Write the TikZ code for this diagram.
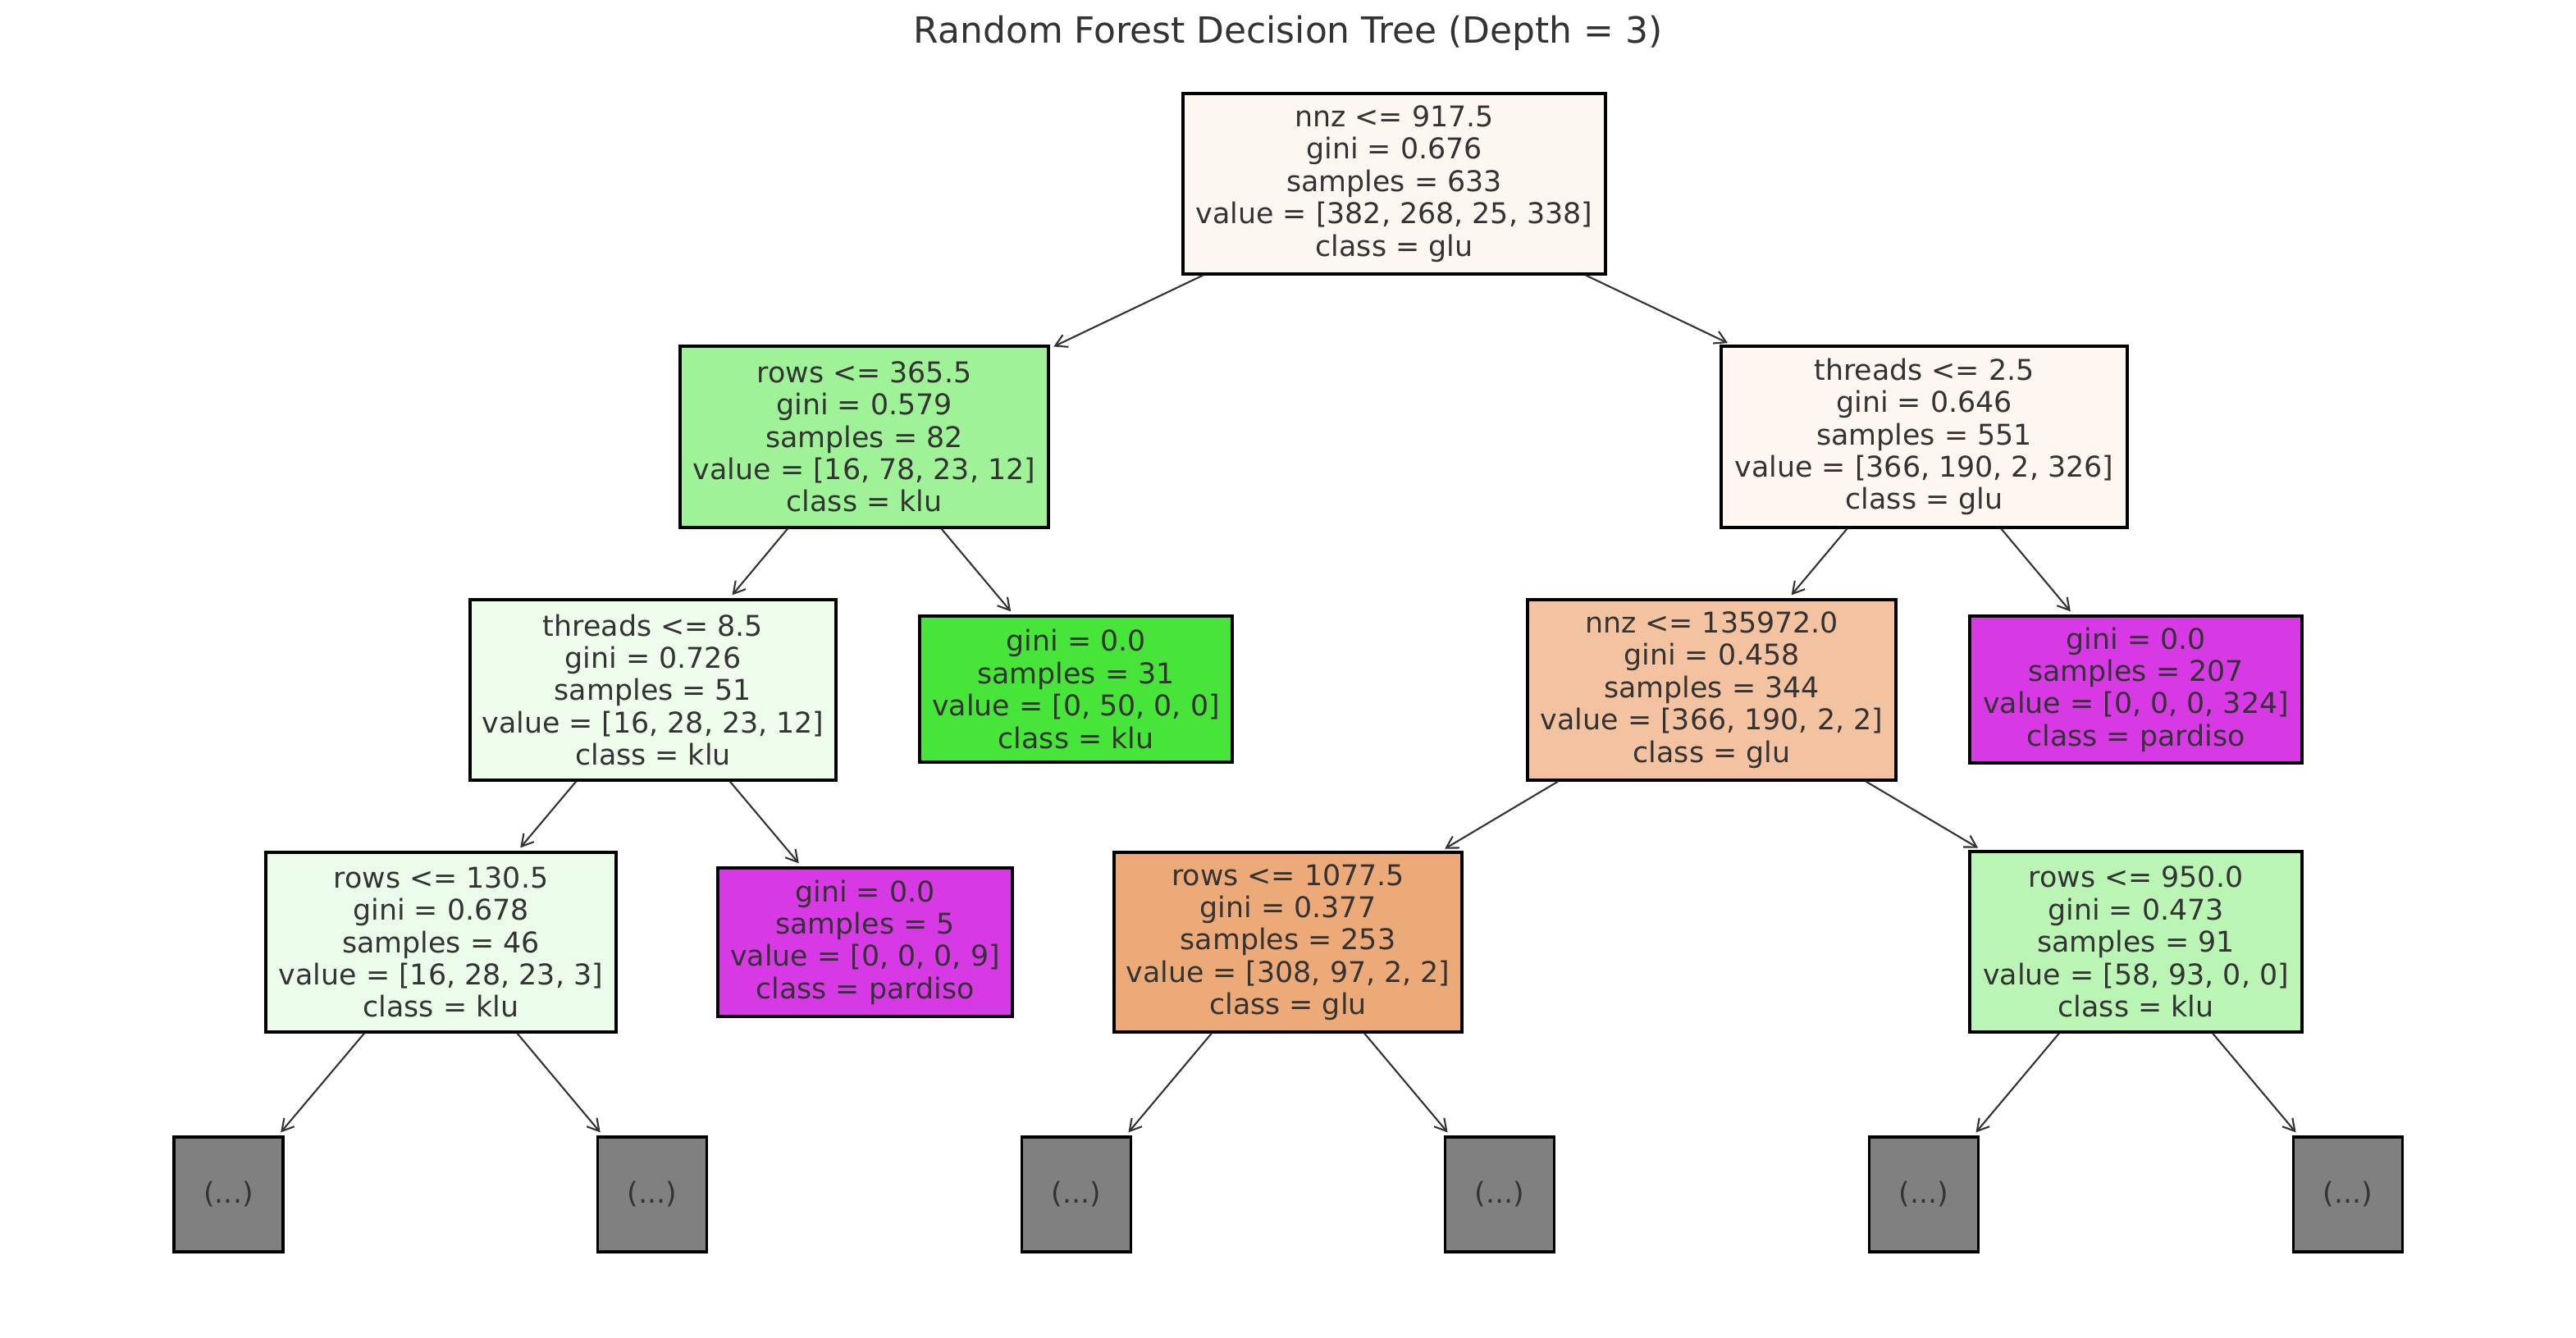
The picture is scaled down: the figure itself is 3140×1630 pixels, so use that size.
\documentclass[tikz,border=0pt]{standalone}
\usepackage{fontspec}
\setmainfont{DejaVu Sans}
\usetikzlibrary{arrows.meta}
\definecolor{txt}{HTML}{333333}
\definecolor{edgec}{HTML}{333333}
\definecolor{cRoot}{RGB}{253,247,242}
\definecolor{cA}{RGB}{160,242,152}
\definecolor{cB}{RGB}{253,246,241}
\definecolor{cC}{RGB}{239,253,237}
\definecolor{cKlu}{HTML}{47E539}
\definecolor{cD}{RGB}{243,195,161}
\definecolor{cPar}{HTML}{D739E5}
\definecolor{cE}{RGB}{235,252,234}
\definecolor{cF}{RGB}{237,170,121}
\definecolor{cG}{RGB}{186,245,181}
\definecolor{cGray}{HTML}{808080}
\tikzset{
  tnode/.style={draw=black, line width=0.9pt, rectangle, align=center, text=txt,
    inner sep=0pt, font=\fontsize{9.9pt}{11.2pt}\selectfont},
  trunc/.style={tnode, fill=cGray, minimum width=133\pgfxx, minimum height=140\pgfxx},
  arr/.style={draw=edgec, line width=0.6pt, -{Straight Barb[length=4pt,width=4.6pt]}, shorten >=1.5pt},
}
\newdimen\pgfxx
\pgfxx=0.01cm
\begin{document}
\begin{tikzpicture}[x=0.01cm,y=-0.01cm]
\path[use as bounding box] (0,0) rectangle (3140,1630);
\node[text=txt, font=\fontsize{12.5pt}{15pt}\selectfont] (title) at (1570,40) {Random Forest Decision Tree (Depth = 3)};

\node[tnode, fill=cRoot, minimum width=515\pgfxx, minimum height=220\pgfxx] (root) at (1699.5,224)
  {nnz <= 917.5\\gini = 0.676\\samples = 633\\value = [382, 268, 25, 338]\\class = glu};
\node[tnode, fill=cA, minimum width=449\pgfxx, minimum height=221\pgfxx] (n1) at (1053.5,532.5)
  {rows <= 365.5\\gini = 0.579\\samples = 82\\value = [16, 78, 23, 12]\\class = klu};
\node[tnode, fill=cB, minimum width=495\pgfxx, minimum height=221\pgfxx] (n2) at (2345.5,532.5)
  {threads <= 2.5\\gini = 0.646\\samples = 551\\value = [366, 190, 2, 326]\\class = glu};
\node[tnode, fill=cC, minimum width=446\pgfxx, minimum height=220\pgfxx] (n3) at (796,841)
  {threads <= 8.5\\gini = 0.726\\samples = 51\\value = [16, 28, 23, 12]\\class = klu};
\node[tnode, fill=cKlu, minimum width=381\pgfxx, minimum height=178\pgfxx] (n4) at (1311.5,840)
  {gini = 0.0\\samples = 31\\value = [0, 50, 0, 0]\\class = klu};
\node[tnode, fill=cD, minimum width=449\pgfxx, minimum height=220\pgfxx] (n5) at (2086.5,841)
  {nnz <= 135972.0\\gini = 0.458\\samples = 344\\value = [366, 190, 2, 2]\\class = glu};
\node[tnode, fill=cPar, minimum width=405\pgfxx, minimum height=179\pgfxx] (n6) at (2603.5,840.5)
  {gini = 0.0\\samples = 207\\value = [0, 0, 0, 324]\\class = pardiso};
\node[tnode, fill=cE, minimum width=427\pgfxx, minimum height=219\pgfxx] (n7) at (537.5,1148.5)
  {rows <= 130.5\\gini = 0.678\\samples = 46\\value = [16, 28, 23, 3]\\class = klu};
\node[tnode, fill=cPar, minimum width=359\pgfxx, minimum height=181\pgfxx] (n8) at (1054.5,1148.5)
  {gini = 0.0\\samples = 5\\value = [0, 0, 0, 9]\\class = pardiso};
\node[tnode, fill=cF, minimum width=424\pgfxx, minimum height=219\pgfxx] (n9) at (1570,1148.5)
  {rows <= 1077.5\\gini = 0.377\\samples = 253\\value = [308, 97, 2, 2]\\class = glu};
\node[tnode, fill=cG, minimum width=405\pgfxx, minimum height=220\pgfxx] (n10) at (2603.5,1148)
  {rows <= 950.0\\gini = 0.473\\samples = 91\\value = [58, 93, 0, 0]\\class = klu};

\node[trunc] (t1) at (278.5,1456) {(...)};
\node[trunc] (t2) at (795,1456) {(...)};
\node[trunc] (t3) at (1312,1456) {(...)};
\node[trunc] (t4) at (1828,1456) {(...)};
\node[trunc] (t5) at (2345,1456) {(...)};
\node[trunc] (t6) at (2862,1456) {(...)};

\draw[arr] (root) -- (n1);
\draw[arr] (root) -- (n2);
\draw[arr] (n1) -- (n3);
\draw[arr] (n1) -- (n4);
\draw[arr] (n2) -- (n5);
\draw[arr] (n2) -- (n6);
\draw[arr] (n3) -- (n7);
\draw[arr] (n3) -- (n8);
\draw[arr] (n5) -- (n9);
\draw[arr] (n5) -- (n10);
\draw[arr] (n7) -- (t1);
\draw[arr] (n7) -- (t2);
\draw[arr] (n9) -- (t3);
\draw[arr] (n9) -- (t4);
\draw[arr] (n10) -- (t5);
\draw[arr] (n10) -- (t6);
\end{tikzpicture}
\end{document}
